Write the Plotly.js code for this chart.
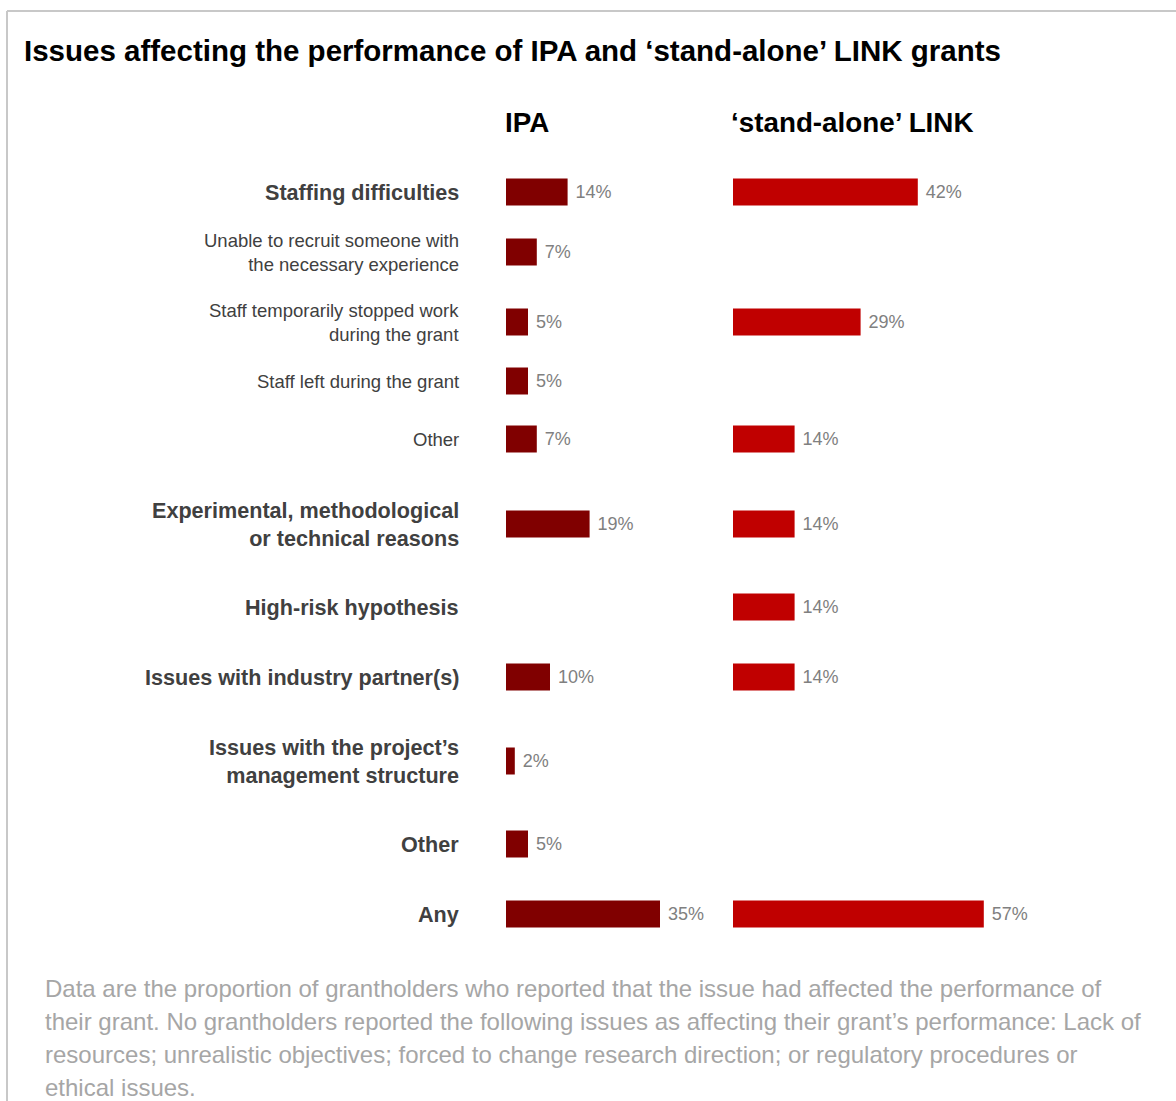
<!DOCTYPE html>
<html>
<head>
<meta charset="utf-8">
<script src="https://cdn.plot.ly/plotly-3.0.1.min.js"></script>
<style>
  html, body { margin: 0; padding: 0; background: #ffffff; }
  #chart { width: 1176px; height: 1101px; }
</style>
</head>
<body>
<div id="chart"></div>
<script>
// ---- data ----
var categories = [
  "Staffing difficulties",
  "Unable to recruit someone with<br>the necessary experience",
  "Staff temporarily stopped work<br>during the grant",
  "Staff left during the grant",
  "Other",
  "Experimental, methodological<br>or technical reasons",
  "High-risk hypothesis",
  "Issues with industry partner(s)",
  "Issues with the project’s<br>management structure",
  "Other",
  "Any"
];
var isMain = [true, false, false, false, false, true, true, true, true, true, true];
var ipaValues  = [14, 7, 5, 5, 7, 19, null, 10, 2, 5, 35];
var linkValues = [42, null, 29, null, 14, 14, 14, 14, null, null, 57];
var seriesNames = ["IPA", "‘stand-alone’ LINK"];
var chartTitle = "Issues affecting the performance of IPA and ‘stand-alone’ LINK grants";
var footnoteLines = [
  "Data are the proportion of grantholders who reported that the issue had affected the performance of",
  "their grant. No grantholders reported the following issues as affecting their grant’s performance: Lack of",
  "resources; unrealistic objectives; forced to change research direction; or regulatory procedures or",
  "ethical issues."
];

// ---- layout helpers (spacing between rows, in pixels of the y axis) ----
var W = 1176, H = 1101;
var rowGaps = [192, 60, 70, 59, 58, 85, 83, 70, 84, 83, 70];
var rowY = [];
rowGaps.reduce(function (acc, g) { var v = acc + g; rowY.push(v); return v; }, 0);

function px(x) { return x / W; }
function py(y) { return 1 - y / H; }

function labels(vals) {
  return vals.map(function (v) { return v === null ? "" : " " + v + "%"; });
}

var FONT = "Liberation Sans, Arial, sans-serif";

var traces = [
  {
    type: "bar", orientation: "h", name: seriesNames[0],
    x: ipaValues, y: rowY, width: 27,
    xaxis: "x", yaxis: "y",
    marker: { color: "#800000", line: { width: 0 } },
    text: labels(ipaValues), textposition: "outside",
    textfont: { family: FONT, size: 18, color: "#808080" },
    cliponaxis: false, hoverinfo: "skip"
  },
  {
    type: "bar", orientation: "h", name: seriesNames[1],
    x: linkValues, y: rowY, width: 27,
    xaxis: "x2", yaxis: "y",
    marker: { color: "#c00000", line: { width: 0 } },
    text: labels(linkValues), textposition: "outside",
    textfont: { family: FONT, size: 18, color: "#808080" },
    cliponaxis: false, hoverinfo: "skip"
  }
];

var annotations = [];
annotations.push({
  xref: "paper", yref: "paper", x: px(22), y: py(50), xanchor: "left", yanchor: "middle",
  text: "<b>" + chartTitle + "</b>", showarrow: false,
  font: { family: FONT, size: 29.5, color: "#000000" }
});
annotations.push({
  xref: "paper", yref: "paper", x: px(503), y: py(123), xanchor: "left", yanchor: "middle",
  text: "<b>" + seriesNames[0] + "</b>", showarrow: false,
  font: { family: FONT, size: 27.8, color: "#000000" }
});
annotations.push({
  xref: "paper", yref: "paper", x: px(729), y: py(123), xanchor: "left", yanchor: "middle",
  text: "<b>" + seriesNames[1] + "</b>", showarrow: false,
  font: { family: FONT, size: 27.8, color: "#000000" }
});
categories.forEach(function (c, i) {
  annotations.push({
    xref: "paper", yref: "y", x: px(461), y: rowY[i], xanchor: "right", yanchor: "middle",
    text: isMain[i] ? "<b>" + c + "</b>" : c, showarrow: false, align: "right",
    font: { family: FONT, size: isMain[i] ? 21.6 : 18.5, color: "#404040" }
  });
});
var footY = [988, 1021, 1054, 1087];
footnoteLines.forEach(function (t, i) {
  annotations.push({
    xref: "paper", yref: "paper", x: px(43), y: py(footY[i]), xanchor: "left", yanchor: "middle",
    text: t, showarrow: false,
    font: { family: FONT, size: 24, color: "#a6a6a6" }
  });
});

var hidden = { visible: false, showgrid: false, zeroline: false, fixedrange: true };
var layout = {
  width: W, height: H,
  margin: { l: 0, r: 0, t: 0, b: 0, pad: 0 },
  paper_bgcolor: "#ffffff", plot_bgcolor: "#ffffff",
  showlegend: false,
  xaxis: Object.assign({}, hidden, { domain: [px(506), px(506 + 50 * 4.4)], range: [0, 50], anchor: "y" }),
  xaxis2: Object.assign({}, hidden, { domain: [px(733), px(733 + 100 * 4.4)], range: [0, 100], anchor: "y" }),
  yaxis: Object.assign({}, hidden, { domain: [0, 1], range: [H, 0], anchor: "x" }),
  annotations: annotations,
  shapes: [
    { type: "line", xref: "paper", yref: "paper", x0: px(7), x1: 1, y0: py(11), y1: py(11),
      line: { color: "#c8c8c8", width: 2 } },
    { type: "line", xref: "paper", yref: "paper", x0: px(7), x1: px(7), y0: py(11), y1: 0,
      line: { color: "#c8c8c8", width: 2 } }
  ]
};

Plotly.newPlot("chart", traces, layout, { displayModeBar: false, staticPlot: true });
</script>
</body>
</html>
